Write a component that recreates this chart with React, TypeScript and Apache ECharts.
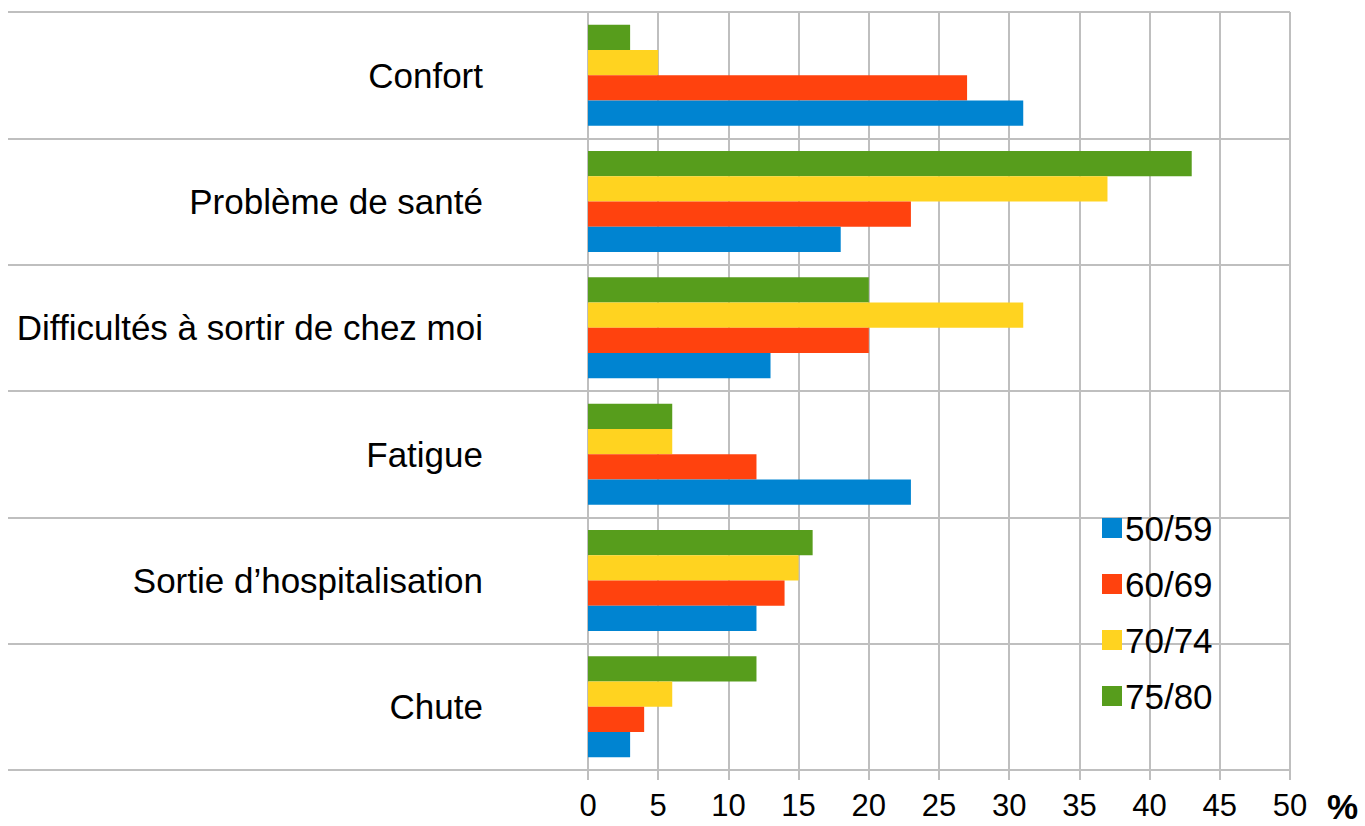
import React, { useEffect, useRef } from "react";
import * as echarts from "echarts";

// Categories listed bottom to top (first category is drawn at the bottom)
const categories = [
  "Chute",
  "Sortie d\u2019hospitalisation",
  "Fatigue",
  "Difficultés à sortir de chez moi",
  "Problème de santé",
  "Confort",
];
const s5059 = [3, 12, 23, 13, 18, 31];
const s6069 = [4, 14, 12, 20, 23, 27];
const s7074 = [6, 15, 6, 31, 37, 5];
const s7580 = [12, 16, 6, 20, 43, 3];
const legendNames = ["50/59", "60/69", "70/74", "75/80"];
const xTicks = { min: 0, max: 50, interval: 5 };

const FONT = "'Liberation Sans', Arial, sans-serif";
const GRID = "#bfbfbf";

export default function App() {
  const ref = useRef<HTMLDivElement>(null);
  useEffect(() => {
    if (!ref.current) return;
    const chart = echarts.init(ref.current, null, { renderer: "svg" });
    const mk = (name: string, data: number[], color: string) => ({
      name,
      type: "bar",
      data,
      barGap: "0%",
      barCategoryGap: "20%",
      itemStyle: { color },
    });
    chart.setOption({
      animation: false,
      backgroundColor: "#ffffff",
      textStyle: { fontFamily: FONT },
      grid: { left: 588, right: 75, top: 12, bottom: 56, containLabel: false },
      legend: {
        orient: "vertical",
        left: 1097,
        top: 505,
        data: legendNames,
        icon: "rect",
        itemWidth: 20,
        itemHeight: 20,
        itemGap: 20,
        textStyle: { fontSize: 35, color: "#000", fontFamily: FONT, lineHeight: 36, padding: [0, 0, 0, -2] },
      },
      xAxis: {
        type: "value",
        min: xTicks.min,
        max: xTicks.max,
        interval: xTicks.interval,
        axisLine: { show: true, lineStyle: { color: GRID, width: 2 } },
        axisTick: { show: true, length: 10, lineStyle: { color: GRID, width: 2 } },
        splitLine: { show: true, lineStyle: { color: GRID, width: 2 } },
        axisLabel: { fontSize: 31, color: "#000", margin: 20, fontFamily: FONT },
      },
      yAxis: {
        type: "category",
        data: categories,
        axisLine: { show: true, lineStyle: { color: GRID, width: 2 } },
        axisTick: { show: true, length: 580, lineStyle: { color: GRID, width: 2 } },
        splitLine: { show: true, lineStyle: { color: GRID, width: 2 } },
        axisLabel: { fontSize: 35, color: "#000", margin: 105, fontFamily: FONT },
      },
      graphic: [
        {
          type: "text",
          left: 1327,
          top: 789,
          style: { text: "%", fill: "#000", font: `bold 35px ${FONT}` },
        },
      ],
      series: [
        mk("75/80", s7580, "#579d1c"),
        mk("70/74", s7074, "#ffd320"),
        mk("60/69", s6069, "#ff420e"),
        mk("50/59", s5059, "#0084d1"),
      ],
    });
    return () => chart.dispose();
  }, []);
  return (
    <div
      ref={ref}
      style={{ position: "fixed", left: 0, top: 0, width: 1365, height: 826, background: "#fff" }}
    />
  );
}
